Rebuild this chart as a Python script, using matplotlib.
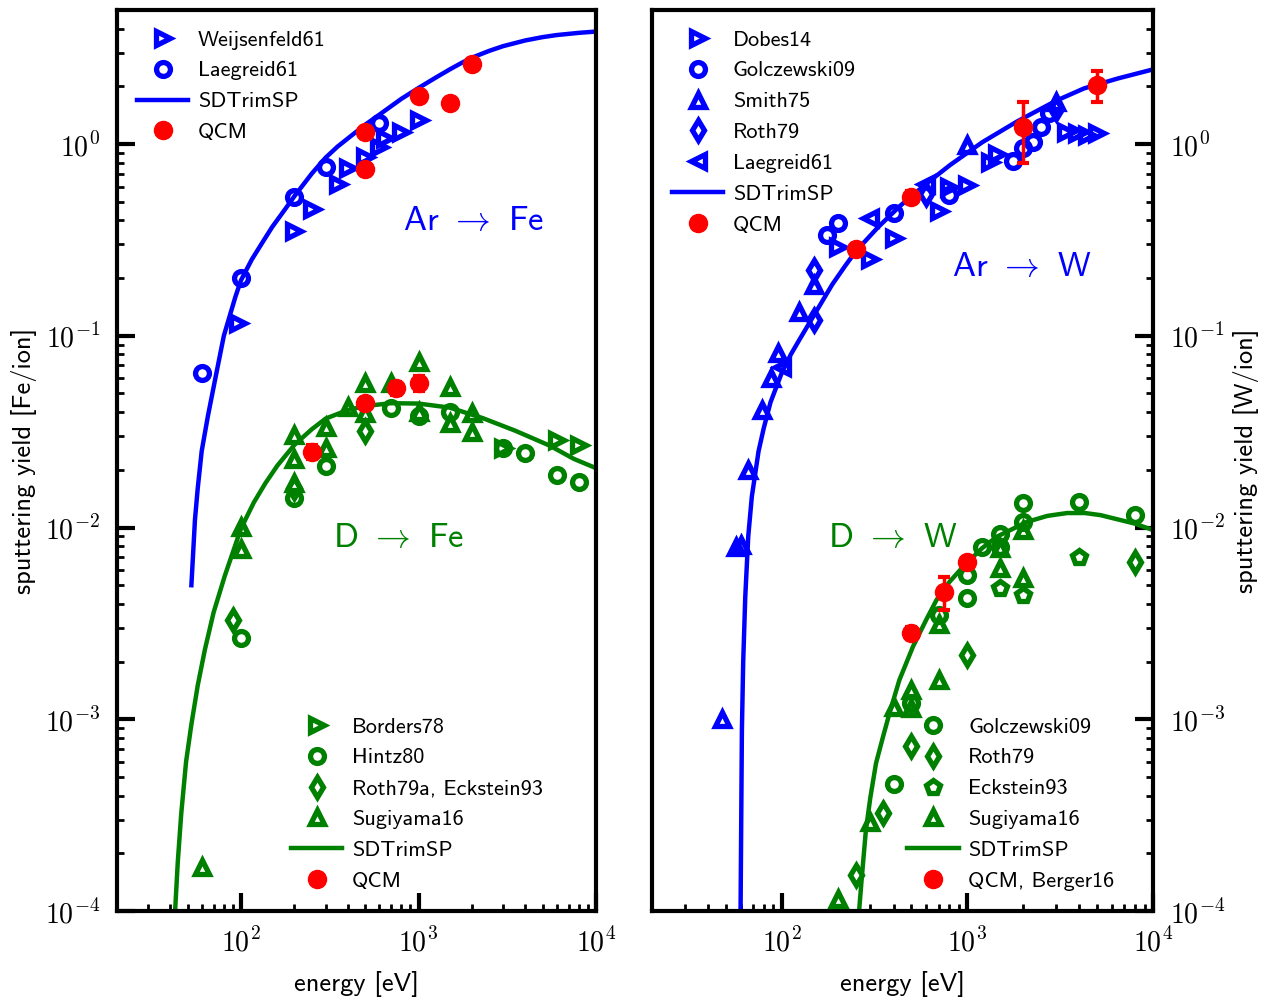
import matplotlib
matplotlib.use("Agg")
from matplotlib import pyplot as plt
from matplotlib.ticker import NullFormatter, FuncFormatter
import numpy as np

plt.rcParams['font.family'] = ['cmss10', 'DejaVu Sans']
plt.rcParams['mathtext.fontset'] = 'cm'
plt.rcParams['axes.unicode_minus'] = False

BLUE = '#0000ff'
GREEN = '#008000'
RED = '#ff0000'

# ---------------- Ar -> Fe ----------------
arfe_sd_E = [52.5, 55, 57, 60, 65, 71, 80, 87, 93, 100, 115, 130, 150, 175,
             200, 250, 300, 350, 400, 500, 600, 800, 1000, 1250, 1500, 1750,
             2000, 2500, 3000, 4000, 5000, 6000, 8000, 10000]
arfe_sd_Y = [0.005, 0.011, 0.016, 0.025, 0.038, 0.0575, 0.1, 0.13, 0.16, 0.195,
             0.25, 0.3, 0.37, 0.45, 0.535, 0.7, 0.85, 0.97, 1.07, 1.26, 1.42,
             1.72, 1.96, 2.22, 2.45, 2.65, 2.82, 3.06, 3.24, 3.47, 3.61, 3.7,
             3.8, 3.86]
weij_E = [96, 200, 250, 350, 400, 500, 600, 650, 800, 1000]
weij_Y = [0.117, 0.35, 0.46, 0.62, 0.75, 0.86, 0.97, 1.07, 1.16, 1.33]
laeg_fe_E = [60, 100, 200, 300, 600]
laeg_fe_Y = [0.064, 0.20, 0.53, 0.76, 1.29]
qcm_arfe_E = [500, 500, 1000, 1500, 2000]
qcm_arfe_Y = [1.15, 0.74, 1.79, 1.64, 2.61]

# ---------------- D -> Fe ----------------
dfe_sd_E = [42.5, 44, 46, 49, 52.5, 57, 62.5, 70, 81, 100, 118, 137, 160, 200,
            250, 300, 400, 500, 700, 1000, 1500, 2300, 3500, 5500, 7500, 10000]
dfe_sd_Y = [1e-4, 1.8e-4, 3.2e-4, 6e-4, 9.4e-4, 1.5e-3, 2.3e-3, 3.6e-3, 5.6e-3,
            9.9e-3, 0.0135, 0.017, 0.021, 0.027, 0.0325, 0.037, 0.041, 0.043,
            0.0445, 0.0443, 0.0422, 0.0372, 0.032, 0.0267, 0.0228, 0.0204]
borders_E = [3000, 6000, 8000]
borders_Y = [0.026, 0.0285, 0.027]
hintz_E = [100, 200, 300, 700, 1000, 1500, 3000, 4000, 6000, 8000]
hintz_Y = [0.00264, 0.0142, 0.021, 0.042, 0.038, 0.040, 0.026, 0.0246, 0.0188, 0.0173]
roth_fe_E = [90, 200, 500]
roth_fe_Y = [0.0033, 0.016, 0.032]
sugi_fe_E = [60, 100, 100, 200, 200, 200, 300, 300, 400, 500, 500, 700, 1000,
             1000, 1500, 1500, 2000, 2000]
sugi_fe_Y = [1.7e-4, 0.0101, 0.0077, 0.0303, 0.0229, 0.017, 0.0335, 0.0259,
             0.0426, 0.0564, 0.0394, 0.0564, 0.0732, 0.040, 0.0542, 0.0349,
             0.0394, 0.0316]
qcm_dfe_E = [250, 500, 750, 1000]
qcm_dfe_Y = [0.0248, 0.0444, 0.0532, 0.0565]
qcm_dfe_err = [0.002, 0.003, 0.004, 0.005]

# ---------------- Ar -> W ----------------
arw_sd_E = [60, 60.5, 61, 62, 63.6, 66, 69, 75, 80, 87, 100, 112, 125, 152,
            187, 220, 250, 330, 430, 600, 804, 1200, 1850, 3000, 4250, 6500,
            10000]
arw_sd_Y = [1e-4, 3e-4, 8.8e-4, 2e-3, 4.35e-3, 9e-3, 0.0145, 0.025, 0.033,
            0.045, 0.064, 0.08, 0.096, 0.132, 0.185, 0.232, 0.275, 0.368,
            0.472, 0.62, 0.775, 1.02, 1.31, 1.68, 1.95, 2.2, 2.45]
dobes_E = [200, 300, 400, 700, 800, 1000, 1330, 1440, 3400, 3900, 4400, 5000]
dobes_Y = [0.29, 0.25, 0.322, 0.45, 0.60, 0.61, 0.81, 0.89, 1.16, 1.14, 1.11, 1.14]
golcz_ar_E = [175, 200, 400, 800, 1770, 2000, 2270, 2480, 2740]
golcz_ar_Y = [0.335, 0.386, 0.435, 0.54, 0.82, 0.95, 1.02, 1.23, 1.45]
smith_E = [47.5, 57, 60, 66, 78, 87, 96, 124, 150, 1000, 3000]
smith_Y = [0.001, 0.0079, 0.0081, 0.020, 0.041, 0.060, 0.081, 0.133, 0.184, 0.99, 1.66]
roth_ar_E = [150, 150, 600, 3000]
roth_ar_Y = [0.22, 0.121, 0.55, 1.53]
laeg_w_E = [100, 300, 600]
laeg_w_Y = [0.069, 0.41, 0.62]
qcm_arw_E = [250, 500, 2000, 5000]
qcm_arw_Y = [0.282, 0.531, 1.23, 2.03]
qcm_arw_err = [0.02, 0.04, 0.43, 0.37]

# ---------------- D -> W ----------------
dw_sd_E = [261, 270, 284, 300, 322, 350, 380, 430, 509, 600, 681, 800, 948,
           1200, 1440, 2094, 2700, 3450, 4300, 5220, 7920, 10000]
dw_sd_Y = [1e-4, 1.5e-4, 2.64e-4, 3.9e-4, 5.9e-4, 8e-4, 1.07e-3, 1.6e-3,
           2.39e-3, 3.3e-3, 4.18e-3, 5.2e-3, 6.24e-3, 7.8e-3, 8.95e-3, 0.0107,
           0.0115, 0.0119, 0.0119, 0.0116, 0.0105, 0.0097]
golcz_d_E = [400, 500, 700, 1000, 1000, 1200, 1500, 1500, 2000, 2000, 4000, 8000]
golcz_d_Y = [4.6e-4, 1.21e-3, 3.5e-3, 4.27e-3, 5.65e-3, 7.9e-3, 7.9e-3, 9.3e-3,
             0.0107, 0.0134, 0.0136, 0.0116]
roth_d_E = [250, 350, 500, 1000, 8000]
roth_d_Y = [1.54e-4, 3.23e-4, 7.24e-4, 2.16e-3, 6.62e-3]
eck_E = [1500, 2000, 4000]
eck_Y = [4.81e-3, 4.44e-3, 6.98e-3]
sugi_w_E = [200, 300, 400, 500, 500, 700, 700, 1500, 1500, 2000, 2000]
sugi_w_Y = [1.16e-4, 2.92e-4, 1.16e-3, 1.42e-3, 1.14e-3, 1.6e-3, 3.15e-3,
            7.78e-3, 6.12e-3, 9.7e-3, 5.43e-3]
qcm_dw_E = [500, 750, 1000]
qcm_dw_Y = [2.82e-3, 4.62e-3, 6.62e-3]
qcm_dw_err = [0.0002, 0.0009, 0.0003]

MS = 10
MEW = 3.8
LW = 3.2
FS = 16        # legend
FS_TICK = 20
FS_LAB = 19


def open_marker(ax, x, y, marker, color, label, ms=MS):
    h, = ax.plot(x, y, ls='none', marker=marker, ms=ms, mew=MEW, mfc='none',
                 mec=color, label=label, zorder=3)
    return h


def qcm(ax, x, y, label, yerr=None):
    if yerr is not None:
        ax.errorbar(x, y, yerr=yerr, fmt='none', ecolor=RED, elinewidth=2.5,
                    capsize=4.5, capthick=3, zorder=4)
    h, = ax.plot(x, y, ls='none', marker='o', ms=13, mfc=RED, mec=RED,
                 label=label, zorder=5)
    return h


def pow10(v, pos):
    return r'$\mathsf{10^{%d}}$' % int(round(np.log10(v)))


def style(ax, side):
    ax.set_xscale('log')
    ax.set_yscale('log')
    ax.set_xlim(20, 1e4)
    ax.set_ylim(1e-4, 5)
    for s in ax.spines.values():
        s.set_linewidth(3)
    left = side == 'left'
    ax.tick_params(which='both', direction='in', top=False, bottom=True,
                   left=left, right=not left, labelleft=left,
                   labelright=not left)
    ax.tick_params(which='major', length=13, width=3, pad=12, labelsize=FS_TICK)
    ax.tick_params(which='minor', length=5, width=2)
    ax.xaxis.set_major_formatter(FuncFormatter(pow10))
    ax.yaxis.set_major_formatter(FuncFormatter(pow10))
    ax.xaxis.set_minor_formatter(NullFormatter())
    ax.yaxis.set_minor_formatter(NullFormatter())
    ax.set_xlabel('energy [eV]', fontsize=FS_LAB, labelpad=10)


leg_kw = dict(frameon=False, fontsize=FS, handlelength=2.3, handletextpad=0.43,
              labelspacing=0.51, numpoints=1, borderaxespad=0.5)

fig = plt.figure(figsize=(12.75, 10.02), dpi=100)
ax1 = fig.add_axes([117 / 1275, 91 / 1002, 479 / 1275, 901 / 1002])
ax2 = fig.add_axes([652 / 1275, 91 / 1002, 501 / 1275, 901 / 1002])

# left panel: Fe target
sd1, = ax1.plot(arfe_sd_E, arfe_sd_Y, color=BLUE, lw=LW, label='SDTrimSP', zorder=2)
sd2, = ax1.plot(dfe_sd_E, dfe_sd_Y, color=GREEN, lw=LW, label='SDTrimSP', zorder=2)
h1 = open_marker(ax1, weij_E, weij_Y, '>', BLUE, 'Weijsenfeld61')
h2 = open_marker(ax1, laeg_fe_E, laeg_fe_Y, 'o', BLUE, 'Laegreid61')
q1 = qcm(ax1, qcm_arfe_E, qcm_arfe_Y, 'QCM')
g1 = open_marker(ax1, borders_E, borders_Y, '>', GREEN, 'Borders78')
g2 = open_marker(ax1, hintz_E, hintz_Y, 'o', GREEN, 'Hintz80')
g3 = open_marker(ax1, roth_fe_E, roth_fe_Y, 'd', GREEN, 'Roth79a, Eckstein93')
g4 = open_marker(ax1, sugi_fe_E, sugi_fe_Y, '^', GREEN, 'Sugiyama16')
q2 = qcm(ax1, qcm_dfe_E, qcm_dfe_Y, 'QCM', qcm_dfe_err)

style(ax1, 'left')
ax1.set_ylabel('sputtering yield [Fe/ion]', fontsize=FS_LAB, labelpad=6)
ax1.text(0.745, 0.765, r'Ar $\rightarrow$ Fe', color=BLUE, fontsize=25,
         ha='center', va='center', transform=ax1.transAxes)
ax1.text(0.587, 0.413, r'D $\rightarrow$ Fe', color=GREEN, fontsize=25,
         ha='center', va='center', transform=ax1.transAxes)
la = ax1.legend(handles=[h1, h2, sd1, q1], loc='upper left', **leg_kw)
ax1.add_artist(la)
ax1.legend(handles=[g1, g2, g3, g4, sd2, q2], loc='lower left',
           bbox_to_anchor=(0.322, 0.0), **leg_kw)

# right panel: W target
sd3, = ax2.plot(arw_sd_E, arw_sd_Y, color=BLUE, lw=LW, label='SDTrimSP', zorder=2)
sd4, = ax2.plot(dw_sd_E, dw_sd_Y, color=GREEN, lw=LW, label='SDTrimSP', zorder=2)
b1 = open_marker(ax2, dobes_E, dobes_Y, '>', BLUE, 'Dobes14')
b2 = open_marker(ax2, golcz_ar_E, golcz_ar_Y, 'o', BLUE, 'Golczewski09')
b3 = open_marker(ax2, smith_E, smith_Y, '^', BLUE, 'Smith75')
b4 = open_marker(ax2, roth_ar_E, roth_ar_Y, 'd', BLUE, 'Roth79')
b5 = open_marker(ax2, laeg_w_E, laeg_w_Y, '<', BLUE, 'Laegreid61')
q3 = qcm(ax2, qcm_arw_E, qcm_arw_Y, 'QCM', qcm_arw_err)
d1 = open_marker(ax2, golcz_d_E, golcz_d_Y, 'o', GREEN, 'Golczewski09')
d2 = open_marker(ax2, roth_d_E, roth_d_Y, 'd', GREEN, 'Roth79')
d3 = open_marker(ax2, eck_E, eck_Y, 'p', GREEN, 'Eckstein93')
d4 = open_marker(ax2, sugi_w_E, sugi_w_Y, '^', GREEN, 'Sugiyama16')
q4 = qcm(ax2, qcm_dw_E, qcm_dw_Y, 'QCM, Berger16', qcm_dw_err)

style(ax2, 'right')
ax2.yaxis.set_label_position('right')
ax2.set_ylabel('sputtering yield [W/ion]', fontsize=FS_LAB, labelpad=6)
ax2.text(0.738, 0.714, r'Ar $\rightarrow$ W', color=BLUE, fontsize=25,
         ha='center', va='center', transform=ax2.transAxes)
ax2.text(0.481, 0.413, r'D $\rightarrow$ W', color=GREEN, fontsize=25,
         ha='center', va='center', transform=ax2.transAxes)
lb = ax2.legend(handles=[b1, b2, b3, b4, b5, sd3, q3], loc='upper left', **leg_kw)
ax2.add_artist(lb)
ax2.legend(handles=[d1, d2, d3, d4, sd4, q4], loc='lower left',
           bbox_to_anchor=(0.47, 0.0), **leg_kw)

fig.savefig('out.png', dpi=100)
